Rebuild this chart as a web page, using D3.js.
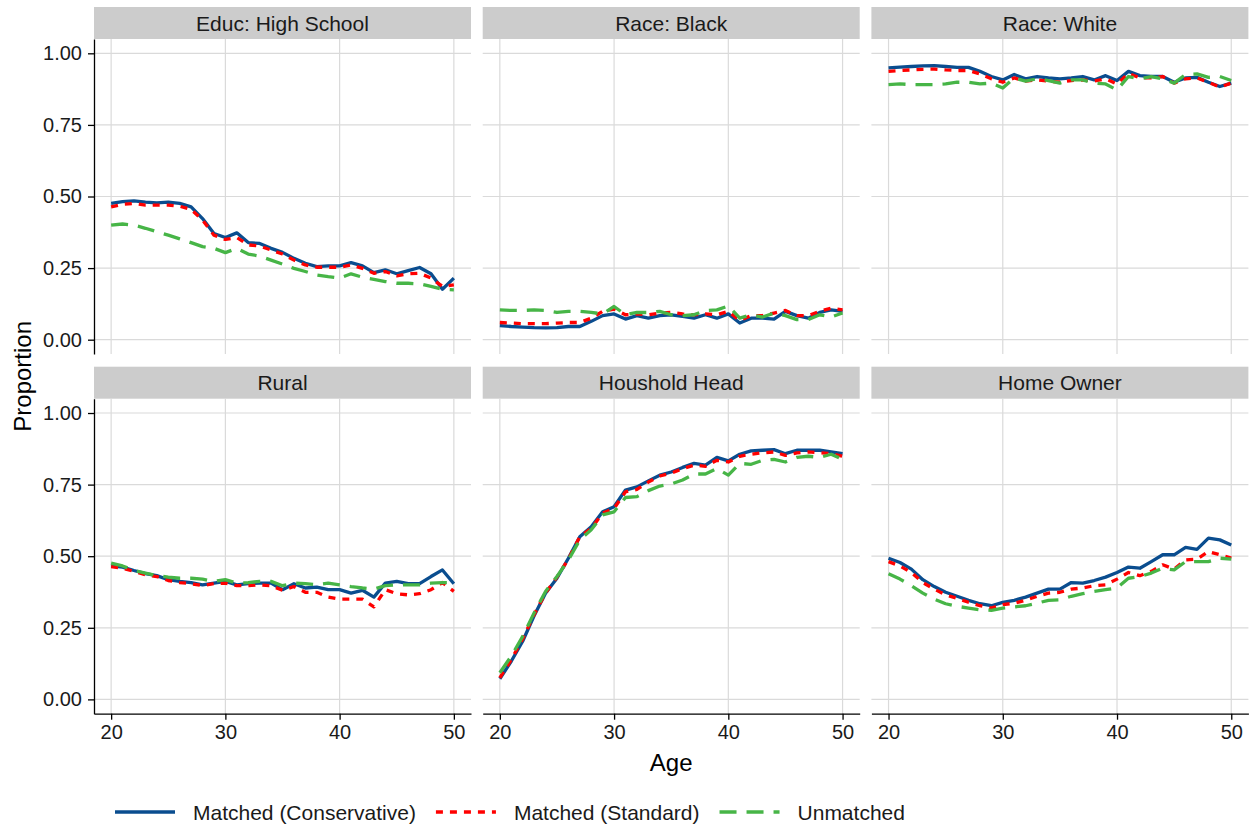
<!DOCTYPE html>
<html>
<head>
<meta charset="utf-8">
<script src="https://cdn.jsdelivr.net/npm/d3@7"></script>
<style>
  body { margin: 0; background: #fff; }
  svg text { font-family: "Liberation Sans", Arial, Helvetica, sans-serif; }
</style>
</head>
<body>
<div id="chart"></div>
<script>
// data, one value per age 20..50

var ages = [20, 21, 22, 23, 24, 25, 26, 27, 28, 29, 30, 31, 32, 33, 34, 35,
            36, 37, 38, 39, 40, 41, 42, 43, 44, 45, 46, 47, 48, 49, 50];
var facets = ["Educ: High School", "Race: Black", "Race: White", "Rural", "Houshold Head", "Home Owner"];
var seriesNames = ["Matched (Conservative)", "Matched (Standard)", "Unmatched"];
var yTicks = [0, 0.25, 0.5, 0.75, 1];
var xTicks = [20, 30, 40, 50];

var educHS_cons = [.476, .482, .485, .480, .478, .480, .476, .464, .423, .371, .357, .373, .339, .336, .319, .305, .284, .267, .255, .258, .258, .269, .258, .234, .244, .230, .241, .252, .230, .176, .215];
var educHS_std  = [.464, .473, .476, .470, .470, .470, .466, .455, .418, .365, .350, .357, .331, .327, .313, .299, .278, .261, .253, .253, .253, .261, .249, .232, .238, .223, .230, .232, .215, .186, .191];
var educHS_unm  = [.400, .404, .400, .389, .377, .365, .352, .339, .325, .319, .304, .319, .299, .292, .278, .264, .249, .238, .226, .220, .215, .230, .218, .211, .203, .197, .197, .195, .186, .176, .174];

var black_cons = [.049, .046, .044, .042, .041, .042, .046, .046, .064, .084, .090, .072, .084, .075, .084, .087, .081, .075, .087, .075, .090, .058, .075, .075, .072, .099, .084, .075, .095, .104, .099];
var black_std  = [.060, .058, .056, .056, .056, .058, .060, .060, .075, .099, .107, .087, .090, .087, .093, .095, .090, .087, .090, .087, .099, .067, .084, .084, .093, .102, .084, .084, .099, .110, .104];
var black_unm  = [.104, .102, .102, .104, .102, .095, .099, .099, .095, .090, .116, .087, .095, .095, .099, .087, .084, .087, .102, .104, .118, .075, .087, .079, .093, .084, .070, .070, .087, .079, .093];

var white_cons = [.949, .952, .954, .956, .957, .954, .951, .951, .937, .919, .907, .926, .911, .919, .914, .911, .914, .919, .907, .922, .905, .937, .922, .919, .919, .899, .914, .916, .899, .884, .896];
var white_std  = [.937, .940, .942, .944, .945, .942, .940, .940, .928, .911, .899, .914, .903, .907, .903, .899, .905, .907, .903, .911, .893, .930, .914, .914, .919, .896, .911, .914, .899, .882, .896];
var white_unm  = [.891, .893, .891, .891, .891, .893, .899, .899, .893, .896, .879, .914, .903, .911, .905, .896, .907, .907, .896, .893, .872, .919, .911, .919, .911, .896, .926, .928, .916, .919, .905];

var rural_cons = [.466, .462, .450, .439, .432, .418, .412, .408, .400, .406, .412, .400, .404, .406, .406, .383, .404, .389, .392, .383, .383, .371, .381, .357, .406, .412, .404, .404, .429, .452, .404];
var rural_std  = [.464, .458, .447, .435, .429, .415, .408, .404, .397, .404, .406, .397, .397, .400, .397, .381, .394, .374, .374, .357, .350, .350, .350, .323, .383, .369, .365, .369, .383, .408, .377];
var rural_unm  = [.476, .466, .450, .441, .432, .427, .423, .423, .420, .412, .418, .406, .408, .412, .412, .397, .406, .404, .400, .406, .400, .394, .389, .385, .397, .400, .400, .400, .406, .408, .408];

var head_cons = [.072, .133, .203, .292, .371, .423, .493, .568, .603, .655, .673, .731, .742, .763, .783, .794, .810, .824, .818, .845, .833, .856, .868, .870, .872, .858, .870, .870, .870, .864, .858];
var head_std  = [.075, .139, .211, .296, .371, .427, .490, .568, .597, .650, .667, .725, .733, .759, .780, .790, .806, .818, .814, .835, .829, .849, .856, .861, .864, .852, .861, .864, .861, .858, .849];
var head_unm  = [.093, .151, .220, .302, .377, .429, .487, .557, .592, .644, .655, .705, .708, .729, .745, .752, .766, .787, .787, .806, .783, .824, .821, .835, .838, .829, .845, .849, .845, .856, .838];

var owner_cons = [.493, .478, .455, .418, .394, .374, .360, .346, .334, .327, .339, .346, .357, .371, .385, .385, .408, .406, .415, .427, .443, .462, .458, .481, .505, .505, .531, .524, .563, .557, .539];
var owner_std  = [.481, .466, .443, .408, .385, .365, .353, .339, .327, .319, .331, .336, .346, .360, .371, .374, .385, .389, .397, .400, .420, .443, .432, .447, .470, .455, .487, .490, .516, .505, .493];
var owner_unm  = [.439, .420, .397, .371, .350, .334, .325, .319, .313, .311, .319, .323, .327, .336, .346, .348, .360, .369, .377, .383, .389, .423, .429, .441, .458, .452, .481, .481, .481, .493, .490];

var facetValues = [
  [educHS_cons, educHS_std, educHS_unm],
  [black_cons, black_std, black_unm],
  [white_cons, white_std, white_unm],
  [rural_cons, rural_std, rural_unm],
  [head_cons, head_std, head_unm],
  [owner_cons, owner_std, owner_unm]
];

// styling per series: blue solid, red dotted, green dashed
var colors = ["#0a4d8f", "#ff0000", "#47b547"];
var dashes = [null, "7,7", "17,10"];
var lineW = 3.3;

// LAYOUT //

var W = 1252, H = 827;
var left = 94, panelW = 377, gapX = 11.7;
var rowTop = [7, 366.7];
var stripH = 32, panelH = 315;

var svg = d3.select("#chart").append("svg")
  .attr("width", W)
  .attr("height", H);

svg.append("rect").attr("width", W).attr("height", H).attr("fill", "#fff");

var x = d3.scaleLinear().domain([18.5, 51.5]).range([0, panelW]);
var y = d3.scaleLinear().domain([-0.05, 1.05]).range([panelH, 0]);

var line = d3.line()
  .x(function(d) { return x(d[0]); })
  .y(function(d) { return y(d[1]); });

facets.forEach(function(name, i) {
  var col = i % 3, row = Math.floor(i / 3);
  var g = svg.append("g")
    .attr("transform", "translate(" + (left + col * (panelW + gapX)) + "," + rowTop[row] + ")");

  // strip on top
  g.append("rect")
    .attr("width", panelW)
    .attr("height", stripH)
    .attr("fill", "#cccccc");
  g.append("text")
    .attr("x", panelW / 2)
    .attr("y", stripH / 2)
    .attr("dy", "0.36em")
    .attr("text-anchor", "middle")
    .attr("font-size", "21px")
    .attr("fill", "#1a1a1a")
    .text(name);

  var p = g.append("g").attr("transform", "translate(0," + stripH + ")");

  // grid
  p.selectAll(".hgrid").data(yTicks).enter().append("line")
    .attr("x1", 0).attr("x2", panelW)
    .attr("y1", function(d) { return y(d); })
    .attr("y2", function(d) { return y(d); })
    .attr("stroke", "#dadada").attr("stroke-width", 1.2);
  p.selectAll(".vgrid").data(xTicks).enter().append("line")
    .attr("y1", 0).attr("y2", panelH)
    .attr("x1", function(d) { return x(d); })
    .attr("x2", function(d) { return x(d); })
    .attr("stroke", "#dadada").attr("stroke-width", 1.2);

  // the three series, blue first so green ends on top
  facetValues[i].forEach(function(vals, s) {
    var pts = ages.map(function(a, k) { return [a, vals[k]]; });
    p.append("path")
      .datum(pts)
      .attr("d", line)
      .attr("fill", "none")
      .attr("stroke", colors[s])
      .attr("stroke-width", lineW)
      .attr("stroke-linejoin", "round")
      .attr("stroke-dasharray", dashes[s]);
  });

  // axes only on the outer panels
  if (col == 0) {
    var ya = p.append("g")
      .call(d3.axisLeft(y).tickValues(yTicks).tickFormat(d3.format(".2f"))
        .tickSize(6).tickSizeOuter(0).tickPadding(6));
    styleAxis(ya);
  }
  if (row == 1) {
    var xa = p.append("g")
      .attr("transform", "translate(0," + panelH + ")")
      .call(d3.axisBottom(x).tickValues(xTicks).tickFormat(d3.format("d"))
        .tickSize(6).tickSizeOuter(0).tickPadding(5));
    styleAxis(xa);
  }
});

function styleAxis(a) {
  a.select(".domain").attr("stroke", "#000").attr("stroke-width", 1.3);
  a.selectAll(".tick line").attr("stroke", "#000").attr("stroke-width", 1.3);
  a.selectAll(".tick text")
    .attr("font-size", "20px")
    .attr("font-family", null)
    .attr("fill", "#1a1a1a");
  a.attr("font-family", null);
}

// axis titles
svg.append("text")
  .attr("x", left + (3 * panelW + 2 * gapX) / 2)
  .attr("y", 762)
  .attr("dy", "0.36em")
  .attr("text-anchor", "middle")
  .attr("font-size", "24px")
  .attr("fill", "#000")
  .text("Age");

svg.append("text")
  .attr("transform", "translate(22," + (rowTop[0] + stripH + (rowTop[1] + stripH + panelH - rowTop[0] - stripH) / 2) + ") rotate(-90)")
  .attr("dy", "0.36em")
  .attr("text-anchor", "middle")
  .attr("font-size", "24px")
  .attr("fill", "#000")
  .text("Proportion");

// legend at the bottom
var legY = 812;
var lx = 115;
seriesNames.forEach(function(name, s) {
  svg.append("line")
    .attr("x1", lx).attr("x2", lx + 60)
    .attr("y1", legY).attr("y2", legY)
    .attr("stroke", colors[s])
    .attr("stroke-width", lineW)
    .attr("stroke-dasharray", dashes[s]);
  var t = svg.append("text")
    .attr("x", lx + 78)
    .attr("y", legY)
    .attr("dy", "0.36em")
    .attr("font-size", "21px")
    .attr("fill", "#1a1a1a")
    .text(name);
  lx = lx + 78 + t.node().getComputedTextLength() + 20;
});
</script>
</body>
</html>
